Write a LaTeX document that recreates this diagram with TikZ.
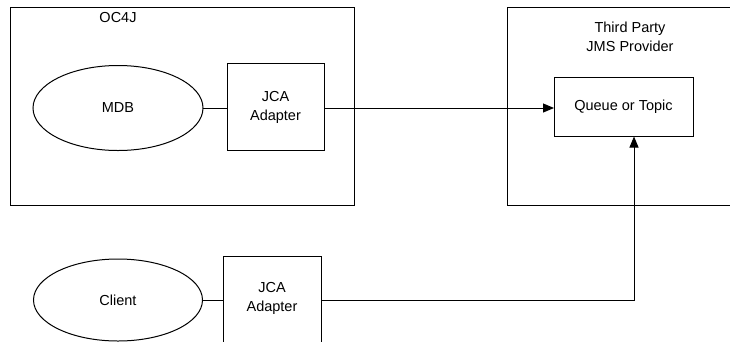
\documentclass[tikz,border=0pt]{standalone}
\usepackage{fontspec}
\setmainfont{Liberation Sans}
\usetikzlibrary{shapes.geometric,arrows.meta}
\begin{document}
\begin{tikzpicture}[x=1pt,y=-1pt,
  every node/.style={font=\fontsize{14.5}{19}\selectfont, inner sep=0pt, outer sep=0pt},
  boxstyle/.style={draw, line width=1pt, rectangle, align=center},
  ovalstyle/.style={draw, line width=1pt, ellipse},
  conn/.style={line width=1pt},
  arr/.style={conn, -{Triangle[length=11pt,width=9pt]}}]
\useasboundingbox (0,0) rectangle (730,341);
\clip (0,0) rectangle (730,341);
% containers
\node[boxstyle, minimum width=344pt, minimum height=198pt] (oc4j) at (182,106) {};
\node (oc4jlabel) at (118,18) {OC4J};
\node[boxstyle, minimum width=238pt, minimum height=198pt] (tp) at (626,106) {};
\node[align=center] (tplabel) at (630,37) {Third Party\\JMS Provider};
% inner nodes
\node[ovalstyle, minimum width=170pt, minimum height=85pt] (mdb) at (118,108) {MDB};
\node[boxstyle, minimum width=97pt, minimum height=87pt] (jca1) at (275.5,107) {JCA\\Adapter};
\node[boxstyle, minimum width=139pt, minimum height=59pt] (queue) at (623.5,107) {Queue or Topic};
\node[ovalstyle, minimum width=169pt, minimum height=82pt] (client) at (118,300) {Client};
\node[boxstyle, minimum width=98pt, minimum height=96pt] (jca2) at (272,304) {};
\node[align=center] (jca2label) at (272,298) {JCA\\Adapter};
\coordinate (turn) at (634,300);
% connectors
\draw[conn] (mdb.east) -- (mdb.east -| jca1.west);
\draw[arr] (jca1.east |- mdb.east) -- (queue.west |- mdb.east);
\draw[conn] (client.east) -- (client.east -| jca2.west);
\draw[arr] (jca2.east |- turn) -- (turn) -- (turn |- queue.south);
\end{tikzpicture}
\end{document}
